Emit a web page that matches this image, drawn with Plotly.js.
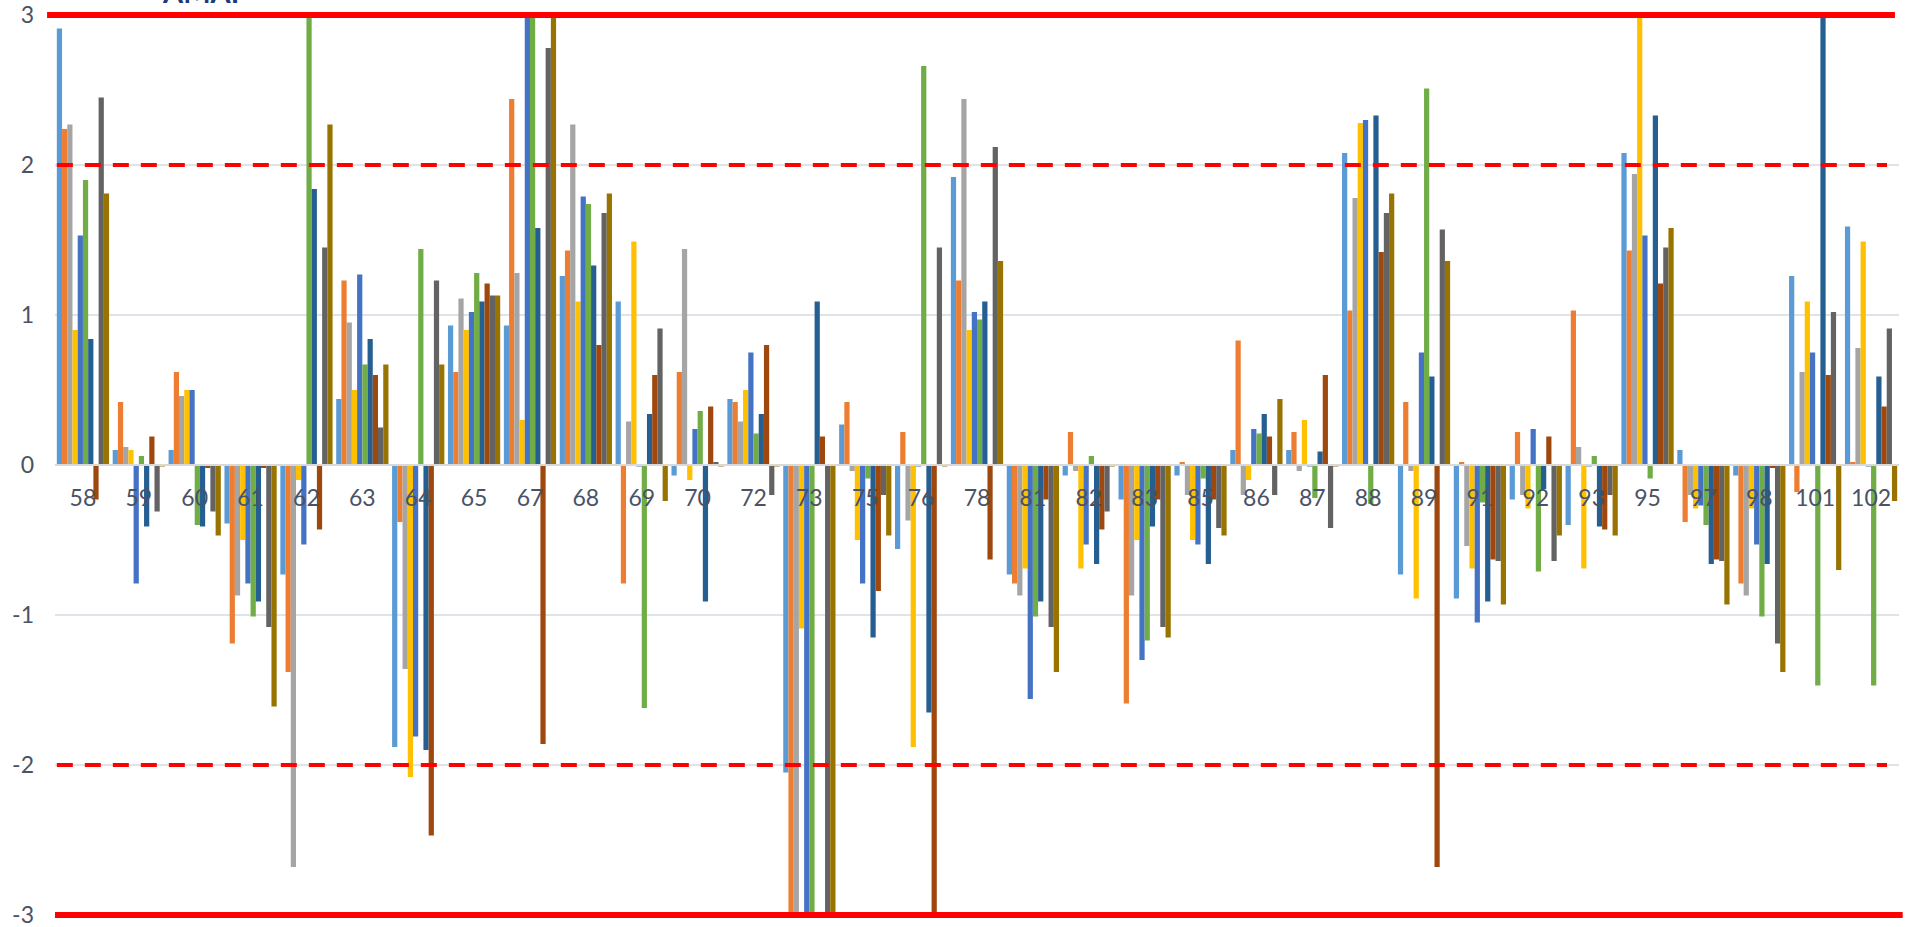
<!DOCTYPE html>
<html>
<head>
<meta charset="utf-8">
<script src="https://cdn.plot.ly/plotly-3.0.1.min.js"></script>
<style>
  html, body { margin: 0; padding: 0; background: #ffffff; }
  #chart { width: 1907px; height: 927px; }
</style>
</head>
<body>
<div id="chart"></div>
<script>
// Category labels
const categories = ["58","59","60","61","62","63","64","65","67","68","69","70","72","73","75","76","78","81","82","83","85","86","87","88","89","91","92","93","95","97","98","101","102"];

// Series values (values beyond +-3 are clipped there)
const series1  = [2.91, 0.10, 0.10, -0.39, -0.73, 0.44, -1.88, 0.93, 0.93, 1.26, 1.09, -0.07, 0.44, -2.05, 0.27, -0.56, 1.92, -0.73, -0.07, -0.23, -0.07, 0.10, 0.10, 2.08, -0.73, -0.89, -0.23, -0.40, 2.08, 0.10, -0.07, 1.26, 1.59];
const series2  = [2.24, 0.42, 0.62, -1.19, -1.38, 1.23, -0.38, 0.62, 2.44, 1.43, -0.79, 0.62, 0.42, -3.4, 0.42, 0.22, 1.23, -0.79, 0.22, -1.59, 0.02, 0.83, 0.22, 1.03, 0.42, 0.02, 0.22, 1.03, 1.43, -0.38, -0.79, -0.18, 0.02];
const series3  = [2.27, 0.12, 0.46, -0.87, -2.68, 0.95, -1.36, 1.11, 1.28, 2.27, 0.29, 1.44, 0.29, -3.4, -0.04, -0.37, 2.44, -0.87, -0.04, -0.87, -0.20, -0.20, -0.04, 1.78, -0.04, -0.54, -0.20, 0.12, 1.94, -0.20, -0.87, 0.62, 0.78];
const series4  = [0.90, 0.10, 0.50, -0.50, -0.10, 0.50, -2.08, 0.90, 0.30, 1.09, 1.49, -0.10, 0.50, -1.09, -0.50, -1.88, 0.90, -0.69, -0.69, -0.50, -0.50, -0.10, 0.30, 2.28, -0.89, -0.69, -0.29, -0.69, 3.3, -0.29, -0.29, 1.09, 1.49];
const series5  = [1.53, -0.79, 0.50, -0.79, -0.53, 1.27, -1.81, 1.02, 3.3, 1.79, -0.01, 0.24, 0.75, -3.4, -0.79, -0.01, 1.02, -1.56, -0.53, -1.30, -0.53, 0.24, -0.01, 2.30, 0.75, -1.05, 0.24, -0.01, 1.53, -0.27, -0.53, 0.75, -0.01];
const series6  = [1.90, 0.06, -0.40, -1.01, 3.3, 0.67, 1.44, 1.28, 3.3, 1.74, -1.62, 0.36, 0.21, -3.4, -0.09, 2.66, 0.97, -1.01, 0.06, -1.17, -0.09, 0.21, -0.22, -0.26, 2.51, -0.25, -0.71, 0.06, -0.09, -0.40, -1.01, -1.47, -1.47];
const series7  = [0.84, -0.41, -0.41, -0.91, 1.84, 0.84, -1.90, 1.09, 1.58, 1.33, 0.34, -0.91, 0.34, 1.09, -1.15, -1.65, 1.09, -0.91, -0.66, -0.41, -0.66, 0.34, 0.09, 2.33, 0.59, -0.91, -0.16, -0.41, 2.33, -0.66, -0.66, 3.3, 0.59];
const series8  = [-0.23, 0.19, -0.02, -0.02, -0.43, 0.60, -2.47, 1.21, -1.86, 0.80, 0.60, 0.39, 0.80, 0.19, -0.84, -3.4, -0.63, -0.23, -0.43, -0.23, -0.23, 0.19, 0.60, 1.42, -2.68, -0.63, 0.19, -0.43, 1.21, -0.63, -0.02, 0.60, 0.39];
const series9  = [2.45, -0.31, -0.31, -1.08, 1.45, 0.25, 1.23, 1.13, 2.78, 1.68, 0.91, 0.02, -0.20, -3.4, -0.20, 1.45, 2.12, -1.08, -0.31, -1.08, -0.42, -0.20, -0.42, 1.68, 1.57, -0.64, -0.64, -0.20, 1.45, -0.64, -1.19, 1.02, 0.91];
const series10 = [1.81, -0.01, -0.47, -1.61, 2.27, 0.67, 0.67, 1.13, 3.3, 1.81, -0.24, -0.01, -0.01, -3.4, -0.47, -0.01, 1.36, -1.38, -0.01, -1.15, -0.47, 0.44, -0.01, 1.81, 1.36, -0.93, -0.47, -0.47, 1.58, -0.93, -1.38, -0.70, -0.24];

const seriesNames = ["Series 1","Series 2","Series 3","Series 4","Series 5","Series 6","Series 7","Series 8","Series 9","Series 10"];
const seriesColors = ["#5B9BD5","#ED7D31","#A5A5A5","#FFC000","#4472C4","#70AD47","#255E91","#9E480E","#636363","#997300"];
const allSeries = [series1, series2, series3, series4, series5, series6, series7, series8, series9, series10];

// Y tick values
const yTicks = [-3, -2, -1, 0, 1, 2, 3];
const yTickText = ["-3", "-2", "-1", "0", "1", "2", "3"];
// Limit lines
const limitSolid = [3, -3];
const limitDashed = [2, -2];

const traces = allSeries.map((vals, i) => ({
  type: 'bar',
  name: seriesNames[i],
  x: categories,
  y: vals,
  marker: { color: seriesColors[i], line: { width: 0 } },
  showlegend: false
}));

const fontFam = "Lato, 'Open Sans', 'DejaVu Sans', sans-serif";

const shapes = [];
// solid red lines at +3 / -3 (paper refs so they are not clipped)
shapes.push({ type: 'line', xref: 'paper', yref: 'paper', x0: -0.0043, x1: 0.9978, y0: 1, y1: 1,
  line: { color: '#FF0000', width: 6 }, layer: 'above' });
shapes.push({ type: 'line', xref: 'paper', yref: 'paper', x0: 0.0, x1: 1.002, y0: 0, y1: 0,
  line: { color: '#FF0000', width: 6 }, layer: 'above' });
limitDashed.forEach(v => {
  shapes.push({ type: 'line', xref: 'paper', yref: 'y', x0: 0.001, x1: 0.9935, y0: v, y1: v,
    line: { color: '#FF0000', width: 4, dash: '16px,12px' }, layer: 'above' });
});

const layout = {
  width: 1907,
  height: 927,
  margin: { l: 55, r: 8, t: 15, b: 12, pad: 0 },
  paper_bgcolor: '#ffffff',
  plot_bgcolor: '#ffffff',
  barmode: 'group',
  bargap: 0.065,
  bargroupgap: 0,
  font: { family: fontFam, color: '#4a5266' },
  xaxis: {
    type: 'category',
    anchor: 'free',
    position: 0.5,
    showline: true,
    linecolor: '#d9d9d9',
    linewidth: 2,
    ticks: '',
    showgrid: false,
    zeroline: false,
    tickfont: { family: fontFam, size: 23, color: '#4a5266' },
    ticklabelstandoff: 12,
    fixedrange: true
  },
  yaxis: {
    range: [-3, 3],
    tickvals: yTicks,
    ticktext: yTickText,
    showgrid: true,
    gridcolor: '#dfe3ea',
    gridwidth: 1.5,
    zeroline: false,
    showline: false,
    ticks: '',
    tickfont: { family: fontFam, size: 23, color: '#4a5266' },
    ticklabelstandoff: 20,
    ticklabeloverflow: 'allow',
    fixedrange: true
  },
  shapes: shapes,
  annotations: [
    {
      text: '<b>AMAP</b>',
      xref: 'paper', yref: 'paper',
      x: 0.057, y: 1.0044,
      xanchor: 'left', yanchor: 'bottom',
      showarrow: false,
      font: { family: fontFam, size: 29, color: '#1F3A7A' }
    }
  ]
};

Plotly.newPlot('chart', traces, layout, { displayModeBar: false, staticPlot: true });
</script>
</body>
</html>
